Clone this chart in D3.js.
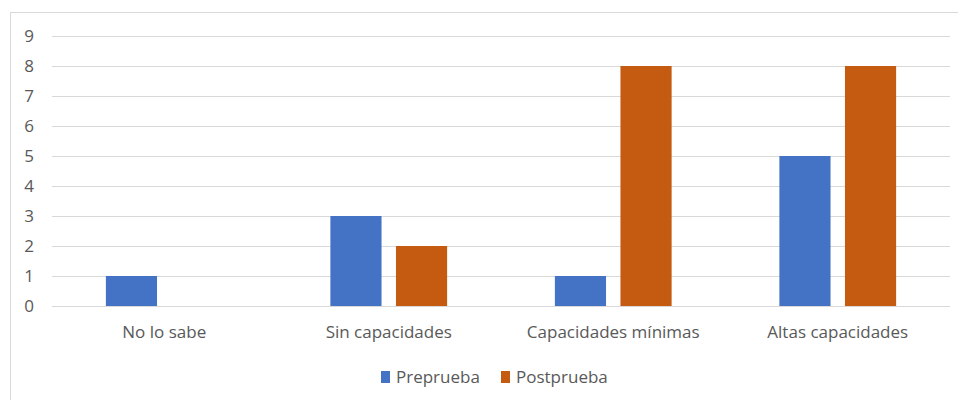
<!DOCTYPE html>
<html>
<head>
<meta charset="utf-8">
<script src="https://cdn.jsdelivr.net/npm/d3@7"></script>
<style>
  body { margin: 0; background: #fff; }
  svg text { font-family: "Open Sans", "Noto Sans", sans-serif; fill: #595959; }
</style>
</head>
<body>
<svg id="chart" width="958" height="400"></svg>
<script>
var categories = ["No lo sabe", "Sin capacidades", "Capacidades mínimas", "Altas capacidades"];
var seriesNames = ["Preprueba", "Postprueba"];
var preprueba = [1, 3, 1, 5];
var postprueba = [0, 2, 8, 8];
var yTicks = [0, 1, 2, 3, 4, 5, 6, 7, 8, 9];
var colors = ["#4472C4", "#C55A11"];

var svg = d3.select("#chart");
var plotLeft = 52, plotRight = 950, plotTop = 36, plotBottom = 306;

// chart frame (runs off the right / bottom of the picture)
svg.append("rect")
    .attr("x", 10.5).attr("y", 12.5)
    .attr("width", 960).attr("height", 400)
    .attr("fill", "none").attr("stroke", "#d9d9d9");

var y = d3.scaleLinear().domain([0, 9]).range([plotBottom, plotTop]);
var x0 = d3.scaleBand().domain(categories).range([plotLeft, plotRight]);
var x1 = d3.scaleBand().domain(seriesNames)
    .range([x0.bandwidth() * 0.24, x0.bandwidth() * 0.76])
    .paddingInner(0.22);

// gridlines
svg.append("g").selectAll("line").data(yTicks).join("line")
    .attr("x1", plotLeft).attr("x2", plotRight)
    .attr("y1", d => Math.round(y(d)) + 0.5).attr("y2", d => Math.round(y(d)) + 0.5)
    .attr("stroke", "#d9d9d9").attr("stroke-width", 1);

// y axis labels
var yAxis = d3.axisLeft(y).tickValues(yTicks).tickSize(0).tickPadding(0);
var yg = svg.append("g").attr("transform", "translate(34,0)").call(yAxis);
yg.select(".domain").remove();
yg.selectAll("text").attr("font-size", 17).attr("fill", "#595959")
    .style("font-family", "\"Open Sans\", sans-serif");

// bars
var rows = categories.map((c, i) => ({ cat: c, values: [preprueba[i], postprueba[i]] }));
var groups = svg.append("g").selectAll("g").data(rows).join("g")
    .attr("transform", d => "translate(" + x0(d.cat) + ",0)");
groups.selectAll("rect").data(d => d.values.map((v, k) => ({ key: seriesNames[k], v: v, k: k })))
    .join("rect")
    .filter(d => d.v > 0)
    .attr("x", d => x1(d.key))
    .attr("width", x1.bandwidth())
    .attr("y", d => y(d.v))
    .attr("height", d => y(0) - y(d.v))
    .attr("fill", d => colors[d.k]);

// category labels
var xAxis = d3.axisBottom(x0).tickSize(0).tickPadding(0);
var xg = svg.append("g").attr("transform", "translate(0,326)").call(xAxis);
xg.select(".domain").remove();
xg.selectAll("text").attr("font-size", 17).attr("fill", "#595959").attr("dy", "0.71em")
    .style("font-family", "\"Open Sans\", sans-serif");

// legend
var legend = svg.append("g").attr("transform", "translate(381,371)");
var legendX = [0, 120];
seriesNames.forEach(function (s, i) {
    var item = legend.append("g").attr("transform", "translate(" + legendX[i] + ",0)");
    item.append("rect").attr("width", 9).attr("height", 12).attr("fill", colors[i]);
    item.append("text").attr("x", 15).attr("y", 6).attr("dy", "0.35em")
        .attr("font-size", 17).text(s);
});
</script>
</body>
</html>
